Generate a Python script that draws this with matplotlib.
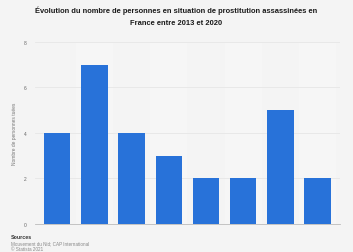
import numpy as np
import matplotlib
matplotlib.use('Agg')
import matplotlib.pyplot as plt

years = ['2013', '2014', '2015', '2016', '2017', '2018', '2019', '2020']
victims = [4, 7, 4, 3, 2, 2, 5, 2]
yticks = [0, 2, 4, 6, 8]

title = ("Évolution du nombre de personnes en situation de prostitution assassinées en\n"
         "France entre 2013 et 2020")
ylabel = "Nombre de personnes tuées"
source_lines = ["Sources", "Mouvement du Nid; CAP International", "© Statista 2021"]

plt.rcParams['font.family'] = ['Liberation Sans', 'DejaVu Sans']

bg = '#f4f4f4'
fig = plt.figure(figsize=(3.53, 2.53), dpi=100, facecolor=bg)
ax = fig.add_axes([0.099, 0.111, 0.864, 0.719], facecolor=bg)

x = np.arange(len(years))
# faint alternating column bands
for i in x:
	if i % 2 == 1:
		ax.axvspan(i - 0.5, i + 0.5, color='#f6f6f6', zorder=0, lw=0)
ax.bar(x, victims, width=0.71, color='#2872d9', zorder=3)

ax.set_xlim(-0.6, len(years) - 0.4)
ax.set_ylim(0, 8)
ax.set_yticks(yticks)
ax.set_yticklabels([str(v) for v in yticks], fontsize=3.5, color='#666666')
ax.set_xticks([])
ax.grid(axis='y', color='#e6e6e6', lw=0.6, zorder=1)
ax.tick_params(axis='y', length=0, pad=6)
for s in ['top', 'right', 'left']:
	ax.spines[s].set_visible(False)
ax.spines['bottom'].set_color('#bbbbbb')
ax.spines['bottom'].set_linewidth(0.6)
ax.set_ylabel(ylabel, fontsize=3.5, color='#777777', labelpad=5)

fig.text(0.5, 0.975, title, ha='center', va='top', fontsize=5.4, color='#1a1a1a',
         weight='bold', linespacing=2.1)
fig.text(0.03, 0.072, source_lines[0], fontsize=3.8, color='#333333', weight='bold', va='top')
fig.text(0.03, 0.047, source_lines[1], fontsize=3.3, color='#888888', va='top')
fig.text(0.03, 0.025, source_lines[2], fontsize=3.3, color='#888888', va='top')

fig.savefig('out.png', dpi=100, facecolor=bg)
